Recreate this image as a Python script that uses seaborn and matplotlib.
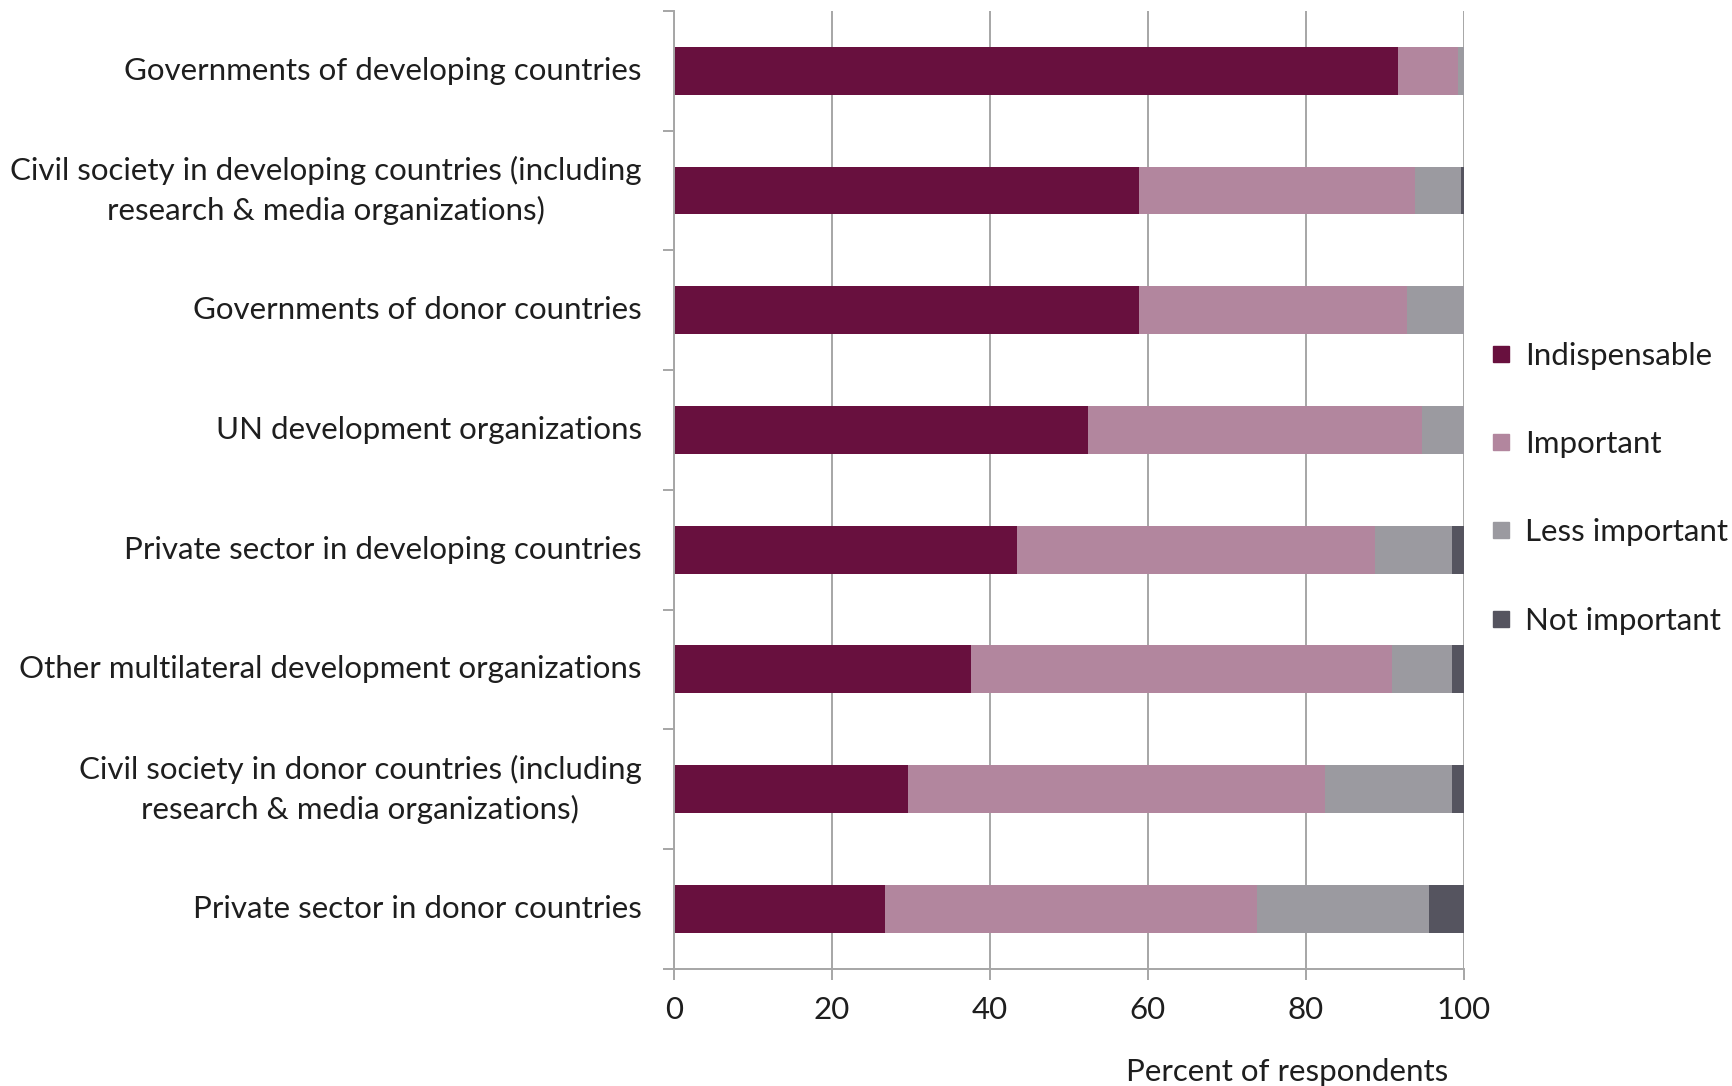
import matplotlib
matplotlib.use("Agg")
import matplotlib.pyplot as plt
from matplotlib.lines import Line2D
import numpy as np
import pandas as pd
import seaborn as sns

categories = [
    "Governments of developing countries",
    "Civil society in developing countries (including\nresearch & media organizations)",
    "Governments of donor countries",
    "UN development organizations",
    "Private sector in developing countries",
    "Other multilateral development organizations",
    "Civil society in donor countries (including\nresearch & media organizations)",
    "Private sector in donor countries",
]
indispensable = [91.7, 58.9, 58.9, 52.4, 43.4, 37.6, 29.7, 26.7]
important = [7.6, 35.0, 34.0, 42.3, 45.4, 53.3, 52.7, 47.1]
less_important = [0.7, 5.8, 7.1, 5.3, 9.8, 7.7, 16.2, 21.8]
not_important = [0.0, 0.3, 0.0, 0.0, 1.4, 1.4, 1.4, 4.4]

series_names = ["Indispensable", "Important", "Less important", "Not important"]
series_colors = ["#68103E", "#B2869E", "#9B9AA0", "#55545F"]

sns.set_theme(style="white")
plt.rcParams["font.family"] = ["Lato", "DejaVu Sans"]

FS = 22.5

df = pd.DataFrame({
    "category": categories,
    "Indispensable": indispensable,
    "Important": important,
    "Less important": less_important,
    "Not important": not_important,
})
# running totals so each segment can be layered from the longest down
cum = df[series_names].cumsum(axis=1)
cum["category"] = df["category"]

fig = plt.figure(figsize=(17.32, 10.86), dpi=100)
ax = fig.add_axes([0.389, 0.108, 0.456, 0.882])

for name, color in reversed(list(zip(series_names, series_colors))):
    sns.barplot(data=cum, x=name, y="category", color=color, width=0.4,
                saturation=1, linewidth=0, orient="h", ax=ax)

grid_col = "#A6A6A6"
text_col = "#1E1E1E"
ax.set_xlim(0, 100)
ax.set_ylim(len(categories) - 0.5, -0.5)
ax.set_xticks(np.arange(0, 101, 20))
ax.xaxis.grid(True, color=grid_col, linewidth=1.4)
ax.yaxis.grid(False)
ax.set_axisbelow(True)

for side in ["top", "right"]:
    ax.spines[side].set_visible(False)
for side in ["left", "bottom"]:
    ax.spines[side].set_color(grid_col)
    ax.spines[side].set_linewidth(1.4)

ax.set_yticks(np.arange(-0.5, len(categories), 1.0), minor=True)
ax.tick_params(axis="y", which="major", length=0, pad=23, labelsize=FS,
               labelcolor=text_col)
ax.tick_params(axis="y", which="minor", length=8, width=1.4, color=grid_col,
               direction="out", left=True)
ax.tick_params(axis="x", which="major", length=8, width=1.4, color=grid_col,
               direction="out", bottom=True, pad=12, labelsize=FS,
               labelcolor=text_col)
for lbl in ax.get_yticklabels():
    lbl.set_multialignment("center")
    lbl.set_verticalalignment("center")
    lbl.set_linespacing(1.45)

ax.set_ylabel("")
ax.set_xlabel("Percent of respondents", fontsize=FS, color=text_col)
ax.xaxis.set_label_coords(0.776, -0.093)

handles = [Line2D([0], [0], marker="s", linestyle="none", markersize=11,
                  markerfacecolor=c, markeredgecolor=c) for c in series_colors]
fig.legend(handles, series_names, loc="center left",
           bbox_to_anchor=(0.8597, 0.5505), frameon=False, fontsize=FS,
           labelspacing=1.93, handlelength=0.75, handletextpad=0.4,
           borderpad=0, borderaxespad=0, labelcolor=text_col)

fig.savefig("out.png", dpi=100, facecolor="white")
